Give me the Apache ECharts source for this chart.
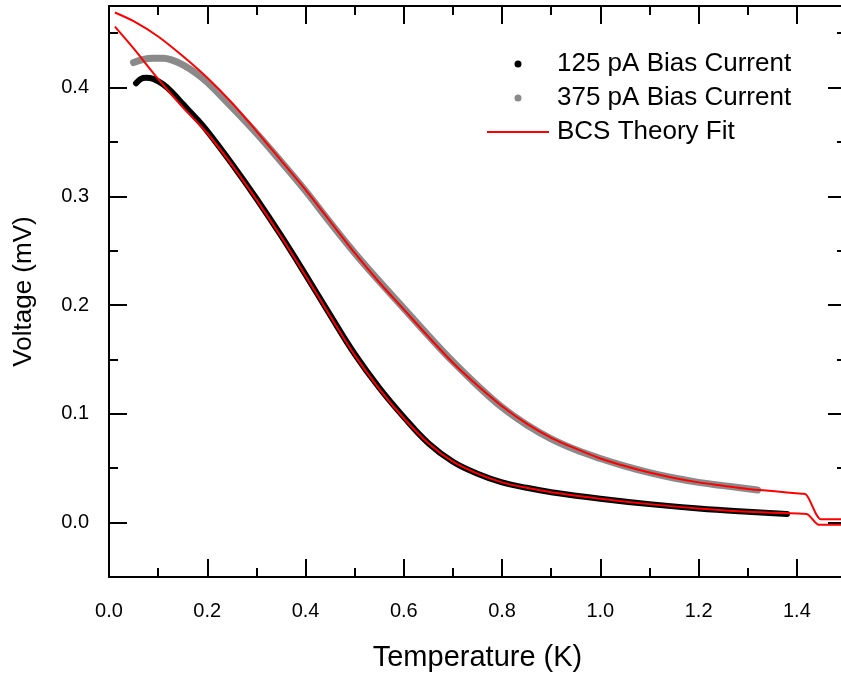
<!DOCTYPE html>
<html>
<head>
<meta charset="utf-8">
<script src="https://cdn.jsdelivr.net/npm/echarts@6/dist/echarts.min.js"></script>
<style>html,body{margin:0;padding:0;background:#fff}#c{width:841px;height:673px}</style>
</head>
<body>
<div id="c"></div>
<script>
// ---- data ----
const xMajorTicks = [0.0, 0.2, 0.4, 0.6, 0.8, 1.0, 1.2, 1.4];
const xMinorTicks = [0.1, 0.3, 0.5, 0.7, 0.9, 1.1, 1.3, 1.5];
const yMajorTicks = [0.0, 0.1, 0.2, 0.3, 0.4];
const yMinorTicks = [-0.05, 0.05, 0.15, 0.25, 0.35, 0.45];

const T125 = [0.055,0.065,0.075,0.09,0.11,0.13,0.15,0.175,0.2,0.25,0.3,0.35,0.4,0.45,0.5,0.55,0.6,0.65,0.7,0.75,0.8,0.85,0.9,1.0,1.1,1.2,1.3,1.38];
const V125 = [0.404,0.408,0.409,0.408,0.403,0.395,0.385,0.373,0.360,0.330,0.298,0.264,0.228,0.191,0.155,0.124,0.097,0.073,0.056,0.045,0.037,0.032,0.028,0.022,0.017,0.013,0.010,0.008];

const T375 = [0.05,0.07,0.09,0.11,0.13,0.15,0.175,0.2,0.25,0.3,0.35,0.4,0.45,0.5,0.55,0.6,0.65,0.7,0.75,0.8,0.85,0.9,0.95,1.0,1.05,1.1,1.15,1.2,1.25,1.32];
const V375 = [0.423,0.426,0.427,0.427,0.425,0.421,0.414,0.405,0.382,0.358,0.332,0.305,0.276,0.248,0.222,0.197,0.172,0.148,0.126,0.106,0.090,0.077,0.067,0.059,0.052,0.046,0.041,0.037,0.034,0.030];

const TfitHigh = [0.012,0.05,0.1,0.15,0.2,0.25,0.3,0.35,0.4,0.45,0.5,0.55,0.6,0.65,0.7,0.75,0.8,0.85,0.9,0.95,1.0,1.05,1.1,1.15,1.2,1.25,1.3,1.35,1.41,1.418,1.449,1.455,1.5];
const VfitHigh = [0.469,0.461,0.447,0.429,0.409,0.386,0.360,0.333,0.306,0.277,0.248,0.221,0.196,0.171,0.147,0.126,0.107,0.091,0.078,0.068,0.059,0.052,0.046,0.041,0.037,0.034,0.031,0.029,0.0265,0.026,0.003,0.003,0.003];

const TfitLow = [0.012,0.05,0.1,0.15,0.2,0.25,0.3,0.35,0.4,0.45,0.5,0.55,0.6,0.65,0.7,0.75,0.8,0.85,0.9,1.0,1.1,1.2,1.3,1.41,1.42,1.445,1.452,1.5];
const VfitLow = [0.456,0.436,0.408,0.382,0.358,0.329,0.297,0.263,0.227,0.190,0.154,0.123,0.096,0.073,0.056,0.045,0.037,0.032,0.028,0.022,0.017,0.013,0.010,0.0082,0.008,-0.002,-0.002,-0.002];

const NAME_125 = '125 pA Bias Current';
const NAME_375 = '375 pA Bias Current';
const NAME_FIT = 'BCS Theory Fit';

// ---- helpers ----
const pairs = (xs, ys) => xs.map((x, i) => [x, ys[i]]);
const FONT = "'Liberation Sans', Arial, sans-serif";
const lineStyleAxis = { color: '#000', width: 2 };
const near = (list, v) => list.some(t => Math.abs(t - v) < 1e-6);

function xAx(position, ticks, len, showLine, showLabel, extra) {
  return Object.assign({
    type: 'value', position: position, min: 0, max: 1.5,
    axisLine: { show: showLine, onZero: false, lineStyle: lineStyleAxis },
    axisTick: { show: true, inside: true, length: len, customValues: ticks, lineStyle: { color: '#000', width: 2 } },
    axisLabel: showLabel ? { show: true, customValues: ticks, formatter: v => near(ticks, v) ? v.toFixed(1) : '', fontSize: 20, color: '#000', fontFamily: FONT, margin: 24 } : { show: false },
    splitLine: { show: false }
  }, extra || {});
}
function yAx(position, ticks, len, showLine, showLabel, extra) {
  return Object.assign({
    type: 'value', position: position, min: -0.05, max: 0.475,
    axisLine: { show: showLine, onZero: false, lineStyle: lineStyleAxis },
    axisTick: { show: true, inside: true, length: len, customValues: ticks, lineStyle: { color: '#000', width: 2 } },
    axisLabel: showLabel ? { show: true, customValues: ticks, formatter: v => near(ticks, v) ? v.toFixed(1) : '', fontSize: 20, color: '#000', fontFamily: FONT, margin: 20 } : { show: false },
    splitLine: { show: false }
  }, extra || {});
}

const chart = echarts.init(document.getElementById('c'), null, { renderer: 'canvas' });
chart.setOption({
  animation: false,
  backgroundColor: '#fff',
  grid: { left: 109, top: 6, width: 737, height: 571, outerBoundsMode: 'none', containLabel: false },
  legend: {
    orient: 'vertical', left: 482, top: 46,
    itemWidth: 62, itemHeight: 7, itemGap: 8,
    textStyle: { fontSize: 26, color: '#000', fontFamily: FONT, lineHeight: 26, padding: [0, 0, 0, 3] },
    data: [
      { name: NAME_125, icon: 'circle' },
      { name: NAME_375, icon: 'circle' },
      { name: NAME_FIT, icon: 'path://M0,0H62V2H0Z' }
    ]
  },
  xAxis: [
    xAx('bottom', xMajorTicks, 18, true, true, {
      name: 'Temperature (K)', nameLocation: 'middle', nameGap: 66,
      nameTextStyle: { fontSize: 29, color: '#000', fontFamily: FONT }
    }),
    xAx('bottom', xMinorTicks, 9, false, false),
    xAx('top', xMajorTicks, 18, true, false),
    xAx('top', xMinorTicks, 9, false, false)
  ],
  yAxis: [
    yAx('left', yMajorTicks, 18, true, true, {
      name: 'Voltage (mV)', nameLocation: 'middle', nameGap: 72,
      nameTextStyle: { fontSize: 26, color: '#000', fontFamily: FONT }
    }),
    yAx('left', yMinorTicks, 9, false, false),
    yAx('right', yMajorTicks, 18, true, false),
    yAx('right', yMinorTicks, 9, false, false)
  ],
  series: [
    {
      name: NAME_375, type: 'line', data: pairs(T375, V375), smooth: 0.4,
      symbol: 'none', itemStyle: { color: '#8a8a8a' },
      lineStyle: { color: '#8a8a8a', width: 7, cap: 'round', join: 'round' }, z: 2
    },
    {
      name: NAME_125, type: 'line', data: pairs(T125, V125), smooth: 0.4,
      symbol: 'none', itemStyle: { color: '#000' },
      lineStyle: { color: '#000', width: 6, cap: 'round', join: 'round' }, z: 3
    },
    {
      name: NAME_FIT, type: 'line', data: pairs(TfitHigh, VfitHigh), smooth: 0.3,
      symbol: 'none', itemStyle: { color: '#ff0000' },
      lineStyle: { color: '#ff0000', width: 2 }, z: 4
    },
    {
      name: NAME_FIT, type: 'line', data: pairs(TfitLow, VfitLow), smooth: 0.3,
      symbol: 'none', itemStyle: { color: '#ff0000' },
      lineStyle: { color: '#ff0000', width: 2 }, z: 4
    }
  ]
});
</script>
</body>
</html>
